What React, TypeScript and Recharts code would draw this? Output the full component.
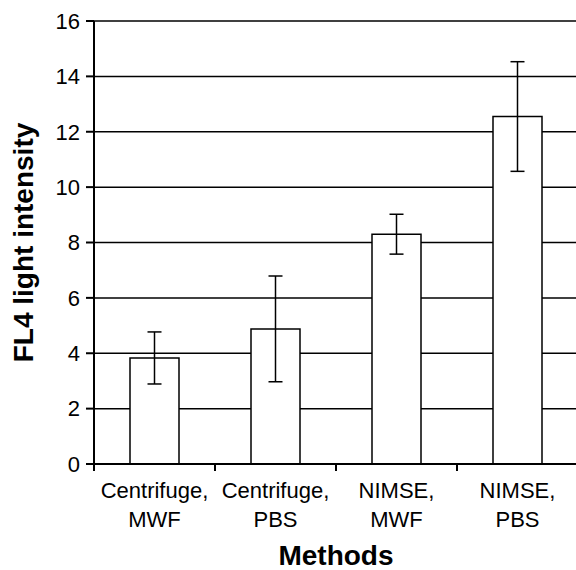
import React from "react";
import {
  BarChart,
  Bar,
  XAxis,
  YAxis,
  CartesianGrid,
  ErrorBar,
} from "recharts";

const categories = ["Centrifuge, MWF", "Centrifuge, PBS", "NIMSE, MWF", "NIMSE, PBS"];
const intensity = [3.83, 4.88, 8.3, 12.55];
const errors = [0.94, 1.91, 0.72, 1.98];
const yTicks = [0, 2, 4, 6, 8, 10, 12, 14, 16];

const data = categories.map((name, i) => ({
  name,
  value: intensity[i],
  err: errors[i],
}));

const FONT = "'Liberation Sans', Arial, Helvetica, sans-serif";

function CategoryTick(props: any) {
  const { x, y, payload } = props;
  const half = payload.offset || 60.5;
  const parts = String(payload.value).split(", ");
  return (
    <g>
      <line x1={x - half} y1={y} x2={x - half} y2={y + 7} stroke="#000" strokeWidth={2} />
      <text x={x} y={y + 34} textAnchor="middle" fontSize={22} fontFamily={FONT} fill="#000">
        {parts[0] + ","}
      </text>
      <text x={x} y={y + 63} textAnchor="middle" fontSize={22} fontFamily={FONT} fill="#000">
        {parts[1]}
      </text>
    </g>
  );
}

function YTitle(props: any) {
  const { viewBox } = props;
  const cx = 33;
  const cy = viewBox.y + viewBox.height / 2;
  return (
    <text
      x={cx}
      y={cy}
      transform={`rotate(-90, ${cx}, ${cy})`}
      textAnchor="middle"
      fontSize={28}
      fontWeight="bold"
      fontFamily={FONT}
      fill="#000"
    >
      FL4 light intensity
    </text>
  );
}

function XTitle(props: any) {
  const { viewBox } = props;
  const cx = viewBox.x + viewBox.width / 2;
  return (
    <text
      x={cx}
      y={565}
      textAnchor="middle"
      fontSize={28}
      fontWeight="bold"
      fontFamily={FONT}
      fill="#000"
    >
      Methods
    </text>
  );
}

export default function App() {
  return (
    <div
      style={{
        position: "absolute",
        left: 0,
        top: 0,
        width: 576,
        height: 570,
        overflow: "hidden",
        background: "#fff",
      }}
    >
      <BarChart
        width={578}
        height={570}
        data={data}
        margin={{ top: 21, right: 0, left: 0, bottom: 0 }}
      >
        <CartesianGrid horizontal vertical={false} stroke="#000" strokeWidth={1.5} />
        <XAxis
          dataKey="name"
          height={106}
          tickLine={false}
          tickSize={0}
          tickMargin={0}
          axisLine={{ stroke: "#000", strokeWidth: 2 }}
          tick={<CategoryTick />}
          interval={0}
          label={{ content: <XTitle /> }}
        />
        <YAxis
          width={94}
          domain={[0, 16]}
          ticks={yTicks}
          interval={0}
          tickSize={8}
          tickMargin={6}
          tickLine={{ stroke: "#000", strokeWidth: 2 }}
          axisLine={{ stroke: "#000", strokeWidth: 2 }}
          tick={{ fill: "#000", fontSize: 22, fontFamily: FONT }}
          label={{ content: <YTitle /> }}
        />
        <Bar
          dataKey="value"
          fill="#fff"
          stroke="#000"
          strokeWidth={1.5}
          barSize={49}
          isAnimationActive={false}
        >
          <ErrorBar
            dataKey="err"
            direction="y"
            width={7}
            stroke="#000"
            strokeWidth={1.5}
            isAnimationActive={false}
          />
        </Bar>
      </BarChart>
    </div>
  );
}
